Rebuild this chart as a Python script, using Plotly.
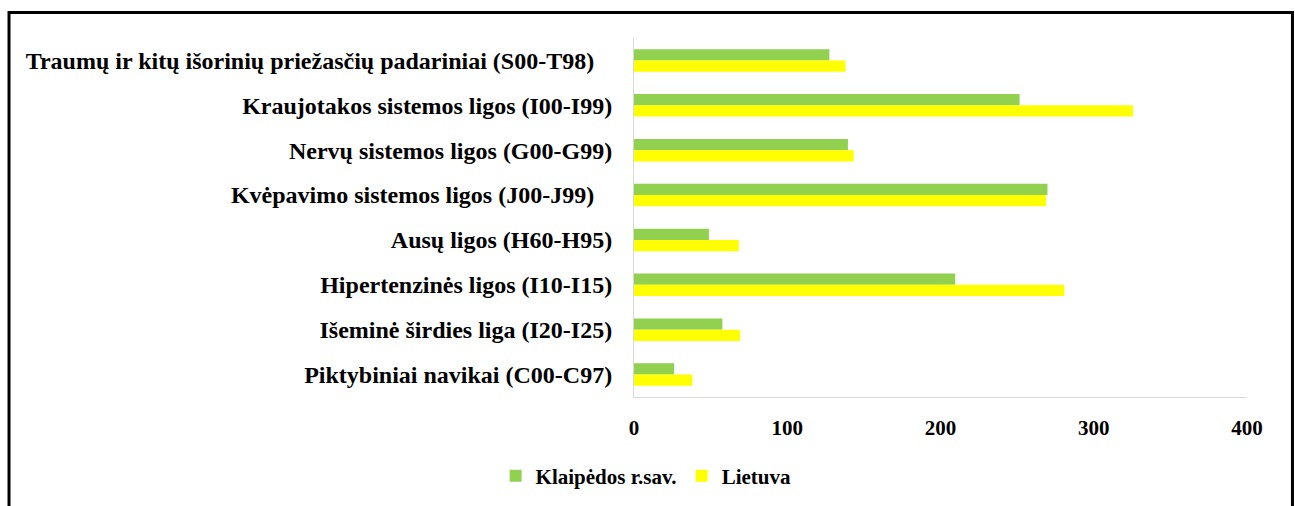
import plotly.graph_objects as go

categories = [
    "Traumų ir kitų išorinių priežasčių padariniai (S00-T98)\u00a0\u00a0\u00a0",
    "Kraujotakos sistemos ligos (I00-I99)",
    "Nervų sistemos ligos (G00-G99)",
    "Kvėpavimo sistemos ligos (J00-J99)\u00a0\u00a0\u00a0",
    "Ausų ligos (H60-H95)",
    "Hipertenzinės ligos (I10-I15)",
    "Išeminė širdies liga (I20-I25)",
    "Piktybiniai navikai (C00-C97)",
]
klaipeda = [127.5, 251.6, 139.6, 269.8, 48.9, 209.6, 57.7, 26.2]
lietuva = [138.0, 325.6, 143.4, 268.9, 68.4, 280.8, 69.3, 38.1]
series_names = ["Klaipėdos r.sav.", "Lietuva"]
x_ticks = [0, 100, 200, 300, 400]

W, H = 1295, 506
L, R, T, B = 633.5, 1247, 38, 397

fig = go.Figure()
fig.add_trace(go.Bar(y=categories, x=klaipeda, orientation="h", name=series_names[0],
                     marker=dict(color="#92d050", line=dict(width=0))))
fig.add_trace(go.Bar(y=categories, x=lietuva, orientation="h", name=series_names[1],
                     marker=dict(color="#ffff00", line=dict(width=0))))

FAM = "Liberation Serif"

fig.update_layout(
    width=W, height=H,
    margin=dict(l=L, r=W - R, t=T, b=H - B, autoexpand=False),
    paper_bgcolor="white", plot_bgcolor="white",
    barmode="group", bargap=0.5, bargroupgap=0.0,
    font=dict(family=FAM, size=22, color="#000000"),
    xaxis=dict(range=[0, 400], tickvals=x_ticks, showgrid=False, zeroline=False,
               showline=True, linecolor="#d9d9d9", linewidth=1,
               ticks="", ticklabelstandoff=12,
               tickfont=dict(family=FAM, size=21, color="#000", weight="bold")),
    yaxis=dict(autorange="reversed", showgrid=False, zeroline=False,
               showline=True, linecolor="#d9d9d9", linewidth=1,
               ticks="", ticklabelstandoff=16,
               tickfont=dict(family=FAM, size=24, color="#000", weight="bold")),
    legend=dict(orientation="h", x=(495 - L) / (R - L), xanchor="left",
                y=(B - 476) / (B - T), yanchor="middle",
                font=dict(family=FAM, size=21, color="#000", weight="bold"),
                itemwidth=30, traceorder="normal"),
    showlegend=True,
)

def px_x(v):
    return (v - L) / (R - L)

def px_y(v):
    return (B - v) / (B - T)

fig.add_shape(type="rect", xref="paper", yref="paper",
              x0=px_x(8), x1=px_x(1292.5), y0=px_y(520), y1=px_y(12.5),
              line=dict(color="black", width=3), fillcolor="rgba(0,0,0,0)", layer="above")

fig.write_html("out.html", config={"displayModeBar": False},
               post_script="document.body.style.margin='0px';document.body.style.overflow='hidden';")
